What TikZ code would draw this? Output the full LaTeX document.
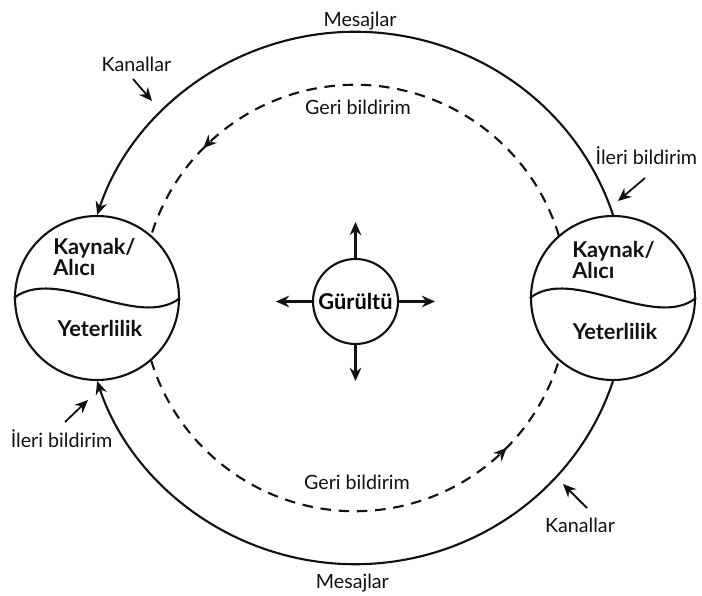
\documentclass[tikz,border=0pt]{standalone}
\usepackage{fontspec}
\setmainfont{Lato}
\usetikzlibrary{arrows.meta,positioning,decorations.markings}
\definecolor{dink}{HTML}{111111}

\begin{document}
\begin{tikzpicture}[
  font=\fontsize{14}{15}\selectfont,
  >={Stealth[length=3.3mm,width=2.9mm]},
  party/.style={circle, draw=dink, line width=1.5pt, minimum size=4.1cm,
              inner sep=0pt},
  noise/.style={circle, draw=dink, line width=1.5pt, minimum size=2.125cm,
              inner sep=0pt, font=\fontsize{15.5}{15}\selectfont\bfseries},
  chan/.style={->, line width=1.5pt, dink},
  fback/.style={line width=1.5pt, dink, dash pattern=on 7.5pt off 5.5pt,
              postaction={decorate},
              decoration={markings, mark=at position 0.81 with
                {\arrow{Stealth[length=3.3mm,width=2.9mm]}}}},
  ptr/.style={->, line width=1.3pt, dink},
  lbl/.style={inner sep=0pt, anchor=base, text=dink},
  bold/.style={inner sep=0pt, align=left, text=dink,
              font=\fontsize{15.5}{15}\selectfont\bfseries}]

%% Tuval 702 x 596 piksel, 1 cm = 40 piksel.
\useasboundingbox (0,0) rectangle (17.55,14.9);

%% ---- taraflar ----
\coordinate (mid) at (8.875,7.45);
\node[party] (lsrc) at (2.425,7.45) {};
\node[party] (rsrc) at (15.325,7.45) {};

\draw[line width=1.5pt, dink] (lsrc.west)
  .. controls +(1.05,0.82) and +(-1.05,-0.82) .. (lsrc.east);
\draw[line width=1.5pt, dink] (rsrc.west)
  .. controls +(1.05,0.82) and +(-1.05,-0.82) .. (rsrc.east);

\node[bold, anchor=west] (lsrcname) at ([shift={(-1.1,1.02)}]lsrc.center)
  {Kaynak/\\Alıcı};
\node[bold, anchor=base] (lsrcskill) at ([shift={(0.075,-0.975)}]lsrc.center)
  {Yeterlilik};
\node[bold, anchor=west] (rsrcname) at ([shift={(-1.025,0.94)}]rsrc.center)
  {Kaynak/\\Alıcı};
\node[bold, anchor=base] (rsrcskill) at ([shift={(0.05,-1.05)}]rsrc.center)
  {Yeterlilik};

%% ---- kanallar: dış halka ----
\draw[chan] (rsrc.north) arc[start angle=18, end angle=162,
  x radius=6.78, y radius=6.625];
\draw[chan] (rsrc.south) arc[start angle=-18, end angle=-162,
  x radius=6.78, y radius=6.625];

%% ---- geri bildirim: kesikli iç halka ----
\draw[fback] ([shift={(16.84:5.33)}]mid) arc[start angle=16.84,
  end angle=163.16, radius=5.33];
\draw[fback] ([shift={(196.84:5.33)}]mid) arc[start angle=196.84,
  end angle=343.16, radius=5.33];

%% ---- gürültü ----
\node[noise] (gurultu) at (8.8875,7.3625) {Gürültü};
\draw[chan] (gurultu.north) -- ++(0,0.9);
\draw[chan] (gurultu.south) -- ++(0,-0.9);
\draw[chan] (gurultu.east)  -- ++(0.9,0);
\draw[chan] (gurultu.west)  -- ++(-0.9,0);

%% ---- etiketler ----
\node[lbl] (msgtop) at (9.0,14.225) {Mesajlar};
\node[lbl] (msgbot) at (8.81,0.175) {Mesajlar};
\node[lbl] (chantl) at (3.41,13.1) {Kanallar};
\node[lbl] (chanbr) at (14.5,1.575) {Kanallar};
\node[lbl] (fbtop)  at (8.95,12.025) {Geri bildirim};
\node[lbl] (fbbot)  at (8.925,2.65) {Geri bildirim};
\node[lbl] (fwdtr)  at (16.16,10.775) {İleri bildirim};
\node[lbl] (fwdbl)  at (1.54,3.7) {İleri bildirim};

\draw[ptr] ([shift={(-0.085,-0.175)}]chantl.base) -- ++(0.475,-0.55);
\draw[ptr] ([shift={(-0.035,-0.325)}]fwdtr.base) -- ++(-0.675,-0.575);
\draw[ptr] ([shift={(0.085,0.65)}]fwdbl.base) -- ++(0.575,0.55);
\draw[ptr] ([shift={(0.175,0.625)}]chanbr.base) -- ++(-0.6,0.6);

\end{tikzpicture}
\end{document}
